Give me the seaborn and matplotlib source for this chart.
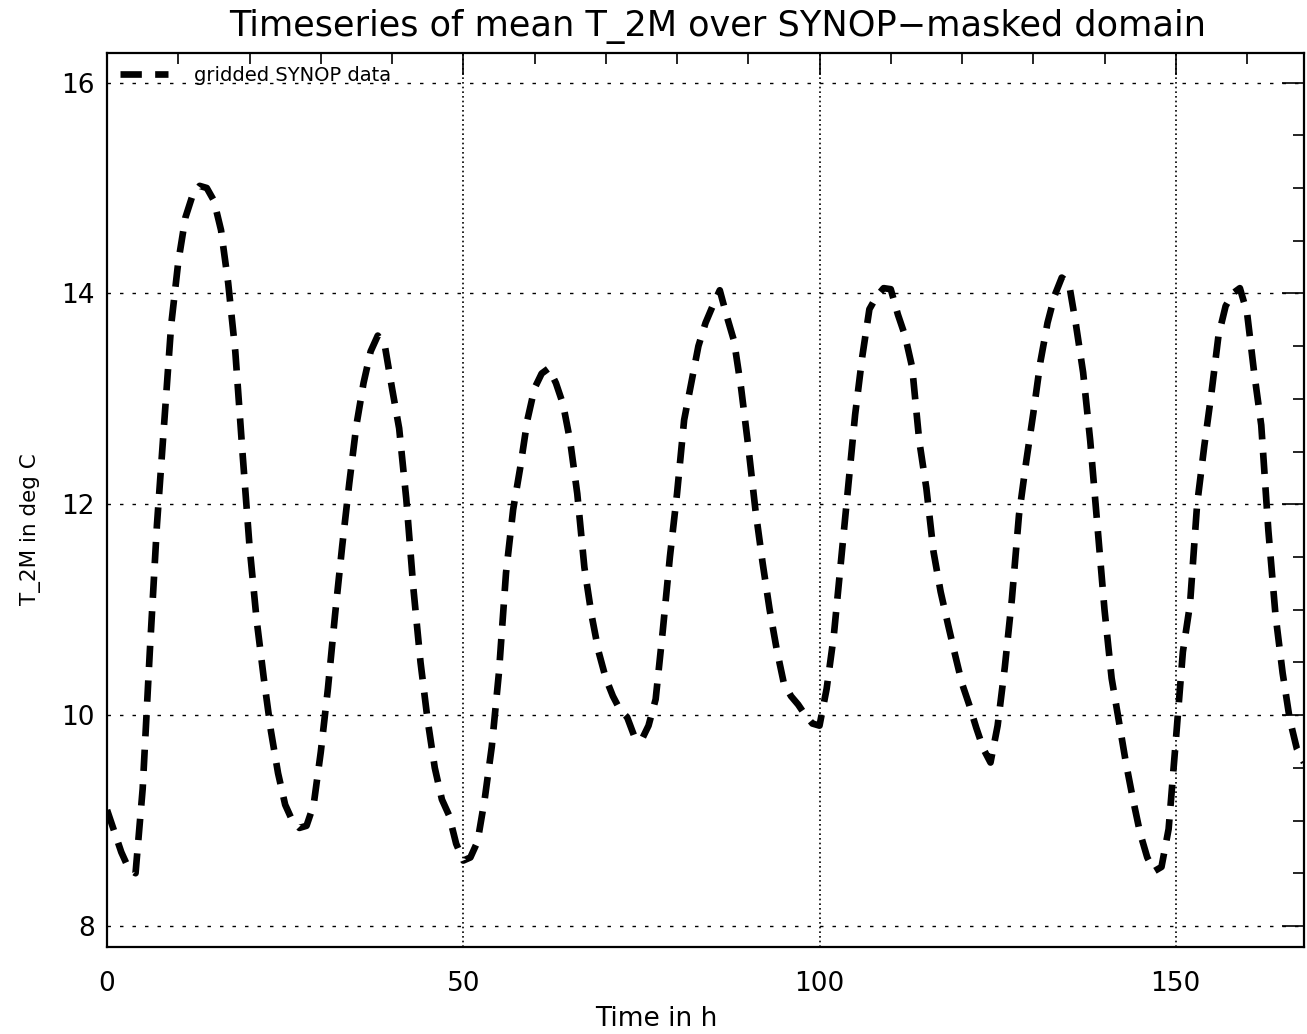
import numpy as np
import pandas as pd
import matplotlib
matplotlib.use("Agg")
import matplotlib.pyplot as plt
import seaborn as sns
from matplotlib.ticker import MultipleLocator

# Hourly domain-mean 2 m temperature (deg C), forecast hours 0..168
hours = list(range(0, 169))
t2m = [
    9.10, 8.90, 8.70, 8.55, 8.50, 9.30, 10.60, 11.80, 12.75, 13.70,
    14.30, 14.72, 14.93, 15.02, 15.00, 14.88, 14.60, 14.10, 13.45, 12.50,
    11.60, 10.90, 10.35, 9.85, 9.45, 9.15, 9.00, 8.93, 8.95, 9.15,
    9.65, 10.25, 10.95, 11.60, 12.20, 12.75, 13.15, 13.45, 13.60, 13.50,
    13.10, 12.72, 12.05, 11.20, 10.50, 9.95, 9.50, 9.20, 9.05, 8.78,
    8.62, 8.65, 8.80, 9.20, 9.70, 10.40, 11.35, 11.95, 12.35, 12.80,
    13.10, 13.24, 13.29, 13.15, 12.95, 12.60, 12.10, 11.40, 10.95, 10.60,
    10.35, 10.18, 10.05, 9.98, 9.80, 9.76, 9.90, 10.15, 10.80, 11.50,
    12.10, 12.80, 13.15, 13.50, 13.72, 13.88, 14.03, 13.78, 13.55, 13.10,
    12.55, 11.95, 11.45, 11.00, 10.62, 10.30, 10.18, 10.10, 10.00, 9.92,
    9.90, 10.25, 10.75, 11.45, 12.15, 12.85, 13.40, 13.85, 13.97, 14.05,
    14.04, 13.80, 13.60, 13.30, 12.60, 12.15, 11.55, 11.17, 10.87, 10.58,
    10.30, 10.10, 9.88, 9.68, 9.55, 9.90, 10.45, 11.10, 11.90, 12.40,
    12.86, 13.35, 13.72, 13.98, 14.15, 14.10, 13.70, 13.25, 12.60, 11.80,
    11.00, 10.35, 9.95, 9.55, 9.20, 8.88, 8.65, 8.52, 8.56, 8.92,
    9.75, 10.60, 11.05, 12.00, 12.55, 13.05, 13.60, 13.88, 14.00, 14.05,
    13.82, 13.25, 12.75, 11.75, 10.95, 10.40, 9.96, 9.68, 9.55,
]
series_label = "gridded SYNOP data"

df = pd.DataFrame({"Time in h": hours, "T_2M": t2m})

sns.set_style("white")
plt.rcParams["font.family"] = ["DejaVu Sans"]
for key in ["text.color", "axes.labelcolor", "xtick.color", "ytick.color",
            "axes.edgecolor"]:
    plt.rcParams[key] = "black"

fig = plt.figure(figsize=(13.07, 10.34), dpi=100)
ax = fig.add_axes([0.0819, 0.0841, 0.9158, 0.8646])

sns.lineplot(data=df, x="Time in h", y="T_2M", ax=ax, color="black",
             linewidth=4.8, label=series_label)
line = ax.get_lines()[0]
line.set_dashes((3.2, 2.0))
line.set_dash_capstyle("butt")

ax.set_xlim(0, 168)
ax.set_ylim(7.8, 16.28)

ax.xaxis.set_major_locator(MultipleLocator(50))
ax.xaxis.set_minor_locator(MultipleLocator(10))
ax.yaxis.set_major_locator(MultipleLocator(2))
ax.yaxis.set_minor_locator(MultipleLocator(0.5))

ax.tick_params(which="both", direction="in", top=True, right=True,
               width=1.2, color="black", labelcolor="black")
ax.tick_params(which="major", length=16)
ax.tick_params(which="minor", length=8)
ax.tick_params(axis="x", which="major", labelsize=19, pad=17)
ax.tick_params(axis="y", which="major", labelsize=19, pad=9)

for sp in ax.spines.values():
    sp.set_visible(True)
    sp.set_color("black")
    sp.set_linewidth(1.6)

# Dotted grid at the major ticks
for yv in [8, 10, 12, 14, 16]:
    ax.axhline(yv, color="black", linewidth=1.0, linestyle=(0, (2.5, 6.5)),
               zorder=0)
for xv in [50, 100, 150]:
    ax.axvline(xv, color="black", linewidth=1.2, linestyle=(0, (1.0, 1.8)),
               zorder=0)

ax.set_xlabel("Time in h", fontsize=19, va="center")
ax.xaxis.set_label_coords(0.459, -0.080)
ax.set_ylabel("T_2M in deg C", fontsize=15.5, va="center")
ax.yaxis.set_label_coords(-0.064, 0.4676)
ax.set_title("Timeseries of mean T_2M over SYNOP\u2212masked domain",
             fontsize=25.3, pad=12, color="black", x=0.51)

leg = ax.legend(loc="upper left", bbox_to_anchor=(0.0, 1.0), frameon=False,
                fontsize=14, handlelength=2.5, handletextpad=1.3,
                borderaxespad=0.3, borderpad=0.35)
for txt in leg.get_texts():
    txt.set_color("black")

fig.savefig("out.png", dpi=100)
